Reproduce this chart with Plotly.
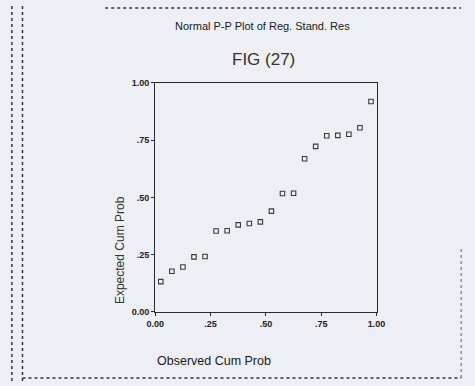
import plotly.graph_objects as go

# Observed vs expected cumulative probabilities of the standardized residuals
observed = [0.025, 0.075, 0.125, 0.175, 0.225, 0.275, 0.325, 0.375, 0.425, 0.475,
            0.525, 0.575, 0.625, 0.675, 0.725, 0.775, 0.825, 0.875, 0.925, 0.975]
expected = [0.132, 0.177, 0.196, 0.240, 0.242, 0.353, 0.354, 0.380, 0.386, 0.393,
            0.440, 0.517, 0.518, 0.669, 0.723, 0.769, 0.771, 0.776, 0.804, 0.919]

tick_vals = [0, 0.25, 0.5, 0.75, 1.0]
tick_text = ["0.00", ".25", ".50", ".75", "1.00"]

W, H = 475, 386
x0, x1 = 152 / W, 382 / W
y0, y1 = 1 - 315 / H, 1 - 80 / H

fig = go.Figure()
fig.add_trace(go.Scatter(
    x=observed, y=expected, mode="markers",
    marker=dict(symbol="square-open", size=4.5, color="#3a3a3a",
                line=dict(width=1.1, color="#3a3a3a")),
    showlegend=False, hoverinfo="x+y",
))

axis_common = dict(
    range=[0, 1], tickvals=tick_vals, ticktext=tick_text,
    showgrid=False, zeroline=False, showline=True, mirror=True,
    linecolor="#2a2a2a", linewidth=1.3, ticks="outside", ticklen=3,
    tickcolor="#2a2a2a",
    tickfont=dict(family="Arial", size=9, color="#222222", weight="bold"),
)
fig.update_xaxes(domain=[x0, x1], **axis_common)
fig.update_yaxes(domain=[y0, y1], **axis_common)

annotations = [
    dict(text="Normal P-P Plot of Reg. Stand. Res", x=263 / W, y=1 - 22 / H,
         font=dict(family="Arial", size=11, color="#1a1a1a")),
    dict(text="FIG (27)", x=265 / W, y=1 - 56 / H,
         font=dict(family="Arial", size=17, color="#333333")),
    dict(text="Expected Cum Prob", x=116 / W, y=1 - 252 / H, textangle=-90,
         font=dict(family="Arial", size=12, color="#333333")),
    dict(text="Observed Cum Prob", x=213 / W, y=1 - 365 / H,
         font=dict(family="Arial", size=12.5, color="#1a1a1a")),
]
for a in annotations:
    a.update(xref="paper", yref="paper", showarrow=False, xanchor="center", yanchor="middle")

# Dotted page frame
frame = dict(type="line", xref="paper", yref="paper",
             line=dict(color="#333333", width=1.5, dash="dot"))
shapes = [
    dict(frame, x0=100 / W, x1=470 / W, y0=1 - 3 / H, y1=1 - 3 / H),
    dict(frame, x0=14 / W, x1=470 / W, y0=1 - 383 / H, y1=1 - 383 / H),
    dict(frame, x0=3 / W, x1=3 / W, y0=0, y1=1),
    dict(frame, x0=14 / W, x1=14 / W, y0=0, y1=1),
    dict(frame, x0=470 / W, x1=470 / W, y0=1 - 383 / H, y1=1 - 250 / H,
         line=dict(color="#777777", width=1.2, dash="dot")),
]

fig.update_layout(
    width=W, height=H, margin=dict(l=0, r=0, t=0, b=0),
    paper_bgcolor="#eeeff5", plot_bgcolor="#eeeff5",
    annotations=annotations, shapes=shapes,
)

fig.write_html("out.html")
